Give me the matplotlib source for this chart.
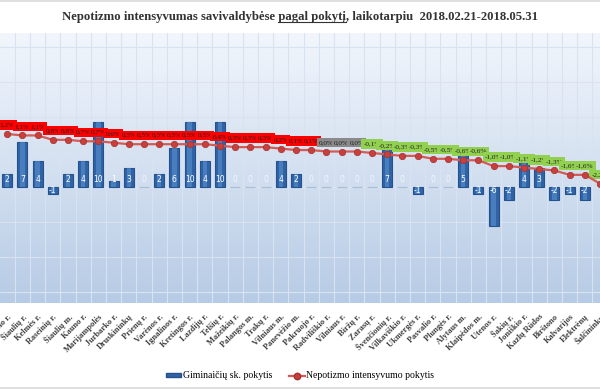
import numpy as np
import matplotlib
matplotlib.use("Agg")
import matplotlib.pyplot as plt
from matplotlib.lines import Line2D
from matplotlib.patches import Patch

# ---------------- data ----------------
categories = ["Panevėžio r.", "Šiaulių r.", "Kelmės r.", "Raseinių r.", "Šiaulių m.", "Kauno r.",
              "Marijampolės", "Jurbarko r.", "Druskininkų", "Prienų r.", "Varėnos r.", "Ignalinos r.",
              "Kretingos r.", "Lazdijų r.", "Telšių r.", "Mažeikių r.", "Palangos m.", "Trakų r.",
              "Vilniaus m.", "Panevėžio m.", "Pakruojo r.", "Radviliškio r.", "Vilniaus r.", "Biržų r.",
              "Zarasų r.", "Švenčionių r.", "Vilkaviškio r.", "Ukmergės r.", "Pasvalio r.", "Plungės r.",
              "Alytaus m.", "Klaipėdos m.", "Utenos r.", "Šakių r.", "Joniškio r.", "Kazlų Rūdos",
              "Birštono", "Kalvarijos", "Elektrėnų", "Šalčininkų"]

relatives_change = [2, 7, 4, -1, 2, 4, 10, 1, 3, 0, 2, 6, 10, 4, 10, 0, 0, 0, 4, 2,
                    0, 0, 0, 0, 0, 7, 0, -1, 0, 0, 5, -1, -6, -2, 4, 3, -2, -1, -2, np.nan]

nepotism_change = [1.2, 1.1, 1.1, 0.8, 0.8, 0.7, 0.7, 0.6, 0.5, 0.5, 0.5, 0.5, 0.5, 0.5, 0.4,
                   0.3, 0.3, 0.3, 0.2, 0.1, 0.1, 0.0, 0.0, 0.0, -0.1, -0.2, -0.3, -0.3, -0.5, -0.5,
                   -0.6, -0.6, -1.0, -1.0, -1.1, -1.2, -1.3, -1.6, -1.6, -2.2]

title_pre = "Nepotizmo intensyvumas savivaldybėse "
title_mid = "pagal pokytį"
title_post = ", laikotarpiu  2018.02.21-2018.05.31"
legend_labels = ["Giminaičių sk. pokytis", "Nepotizmo intensyvumo pokytis"]

# ---------------- layout ----------------
W, H = 600, 390
fig = plt.figure(figsize=(W / 100, H / 100), dpi=100)
fig.patch.set_facecolor("white")

top_px, bot_px = 33, 303
ax = fig.add_axes([0, 1 - bot_px / H, 1, (bot_px - top_px) / H])

# gradient background
grad = np.linspace(0, 1, 256)[:, None]
c_top = np.array([242, 246, 252]) / 255
c_bot = np.array([182, 203, 229]) / 255
img = c_top[None, None, :] * (1 - grad[:, :, None]) + c_bot[None, None, :] * grad[:, :, None]
ax.imshow(img, extent=(0, 1, 0, 1), transform=ax.transAxes, aspect="auto", zorder=0)

n = len(categories)
x = np.arange(n)
sp = 15.44
x0px = 7.3
ax.set_xlim(-x0px / sp, -x0px / sp + W / sp)
ppu = 6.5  # px per unit (primary)
zero_px = 187
ax.set_ylim(-(bot_px - zero_px) / ppu, (zero_px - top_px) / ppu)

# grid
gcol = "#d8e2f0"
for xv in x[:-1] + 0.5:
    ax.axvline(xv, color=gcol, lw=0.8, zorder=0.5)
gstep = 35 / ppu
for k in range(-4, 6):
    ax.axhline(k * gstep, color=gcol, lw=0.8, zorder=0.5)

# bars
vals = np.array(relatives_change, dtype=float)
ecol = ["#a9bdd8" if v == 0 else "#25528c" for v in vals]
ax.bar(x, vals, width=0.65, color="#2f63a6", edgecolor=ecol, linewidth=0.8, zorder=2)
ax.bar(x, vals, width=0.3, color="#5d93d3", alpha=0.55, linewidth=0, zorder=2.1)
for xi, v in zip(x, vals):
    if np.isnan(v):
        continue
    yv = 1.1 if v >= 0 else -0.55
    col = "white" if v != 0 else "#f2f6fb"
    ax.text(xi, yv, f"{int(v)}", ha="center", va="center", fontsize=5.5, color=col,
            family="DejaVu Sans", zorder=3)

for s in ax.spines.values():
    s.set_visible(False)
ax.set_yticks([])
ax.set_xticks(x)
ax.set_xticklabels(categories, rotation=45, ha="right", va="top", rotation_mode="anchor",
                   fontsize=6, fontweight="bold", family="Liberation Serif", color="#404040")
ax.tick_params(axis="x", length=0, pad=7)

# line on secondary axis
ax2 = ax.twinx()
pps = 14.6
zero2 = 151.5
ax2.set_ylim(-(bot_px - zero2) / pps, (zero2 - top_px) / pps)
ax2.set_yticks([])
for s in ax2.spines.values():
    s.set_visible(False)
ax2.plot(x, nepotism_change, color="#d45a55", lw=1.6, marker="o", markersize=4.6,
         markerfacecolor="#c8403b", markeredgecolor="#a53030", markeredgewidth=0.5, zorder=4)
for xi, v in zip(x, nepotism_change):
    if v > 0:
        bg = "#ff0000"
    elif v == 0:
        bg = "#8a8a8a"
    else:
        bg = "#92d050"
    lab = f"{v:.1f}%".replace(".", ",")
    ax2.annotate(lab, (xi, v), xytext=(0, 6.5), textcoords="offset points", ha="center",
                 va="center", fontsize=5.2, family="Liberation Serif", color="#202020", zorder=3.5,
                 bbox=dict(boxstyle="square,pad=0.3", fc=bg, ec="none"))
ax2.set_xlim(ax.get_xlim())

# title
tfs = 9.2
tprops = dict(fontsize=tfs, fontweight="bold", family="Liberation Serif", color="#333333")
full_title = title_pre + title_mid + title_post
t = fig.text(0.5, 1 - 17 / H, full_title, ha="center", va="center", **tprops)

# legend
handles = [Patch(facecolor="#2f63a6", edgecolor="#25528c"),
           Line2D([], [], color="#d45a55", lw=1.6, marker="o", markersize=4.6,
                  markerfacecolor="#c8403b", markeredgecolor="#a53030")]
fig.legend(handles, legend_labels, loc="center", bbox_to_anchor=(0.5, 1 - 376 / H), ncol=2,
           frameon=False, prop={"family": "Liberation Serif", "size": 7}, handlelength=1.6,
           handleheight=0.4, columnspacing=1.8, handletextpad=0.15)

# border lines
fig.add_artist(Line2D([0, 1], [1 - 1 / H] * 2, color="#d9d9d9", lw=1.2))
fig.add_artist(Line2D([0, 1], [1 - 388 / H] * 2, color="#d9d9d9", lw=1.2))

# underline "pagal pokytį"
fig.canvas.draw()
r = fig.canvas.get_renderer()
bb = t.get_window_extent(r)


def width_of(s):
    tt = fig.text(0, 0, s, **tprops)
    w = tt.get_window_extent(r).width
    tt.remove()
    return w


x_start = bb.x0 + width_of(title_pre + "p") - width_of("p")
x_end = bb.x0 + width_of(title_pre + title_mid)
y_ul = bb.y0 + 1.0
fig.add_artist(Line2D([x_start / W, x_end / W], [y_ul / H] * 2, color="#333333", lw=0.8))

fig.savefig("out.png", dpi=100)
